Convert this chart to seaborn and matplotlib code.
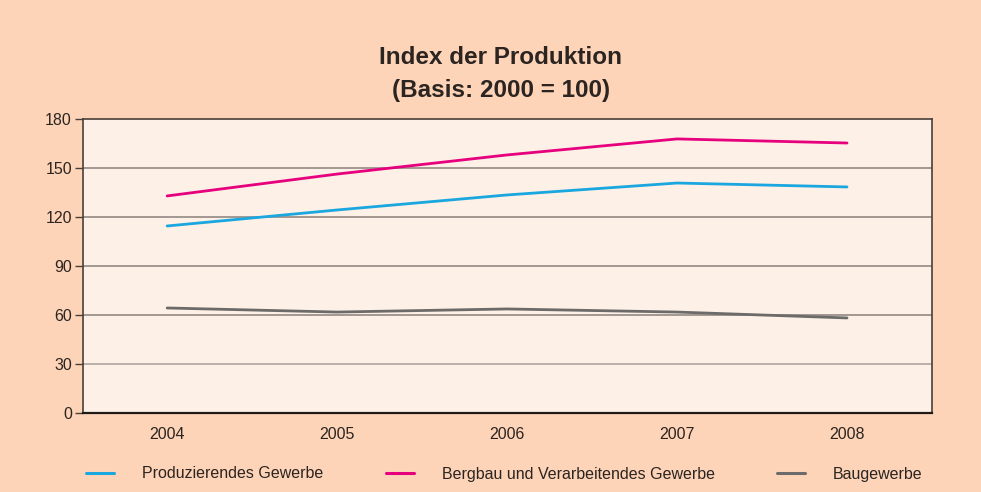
import matplotlib
matplotlib.use('Agg')
import matplotlib.pyplot as plt
import pandas as pd
import seaborn as sns

jahre = [2004, 2005, 2006, 2007, 2008]
produzierendes = [114.5, 124.3, 133.5, 140.8, 138.4]
bergbau = [132.9, 146.3, 158.0, 167.8, 165.3]
baugewerbe = [64.3, 61.8, 63.7, 61.8, 58.2]
serien = ['Produzierendes Gewerbe', 'Bergbau und Verarbeitendes Gewerbe', 'Baugewerbe']
farben = ['#1aa7df', '#e6007e', '#6d6b6a']

df = pd.DataFrame({'Jahr': jahre * 3,
                   'Index': produzierendes + bergbau + baugewerbe,
                   'Reihe': [s for s in serien for _ in jahre]})

sns.set_style('white')
plt.rcParams['font.family'] = ['Liberation Sans', 'DejaVu Sans']
textfarbe = '#2b2420'

fig = plt.figure(figsize=(9.81, 4.92), dpi=100, facecolor='#fed4b8')
ax = fig.add_axes([83 / 981, 1 - 413 / 492, 849 / 981, 294 / 492])
ax.set_facecolor('#fdf0e6')

sns.lineplot(data=df, x='Jahr', y='Index', hue='Reihe', hue_order=serien,
             palette=farben, linewidth=2.0, ax=ax, legend=False)

ax.set_xlim(2003.505, 2008.5)
ax.set_ylim(0, 180)
ax.set_yticks(range(0, 181, 30))
ax.set_xticks(jahre)
ax.set_xticklabels([str(j) for j in jahre])
for y in range(30, 180, 30):
    ax.axhline(y, color='#8a807a' if y > 30 else '#a89e98', linewidth=1.1, zorder=0)
ax.set_xlabel('')
ax.set_ylabel('')
for s in ax.spines.values():
    s.set_color('#4a3f38')
    s.set_linewidth(1.2)
ax.spines['bottom'].set_color('#1e1a17')
ax.spines['bottom'].set_linewidth(1.6)
ax.tick_params(axis='y', length=6, width=1, color='#4a3f38', labelsize=11.5,
               labelcolor=textfarbe, pad=2, left=True)
ax.tick_params(axis='x', length=0, labelsize=11.5, labelcolor=textfarbe, pad=10)

fig.text(0.5105, 1 - 58 / 492, 'Index der Produktion', ha='center', va='center',
         fontsize=17.5, fontweight='bold', color=textfarbe)
fig.text(0.5105, 1 - 91 / 492, '(Basis: 2000 = 100)', ha='center', va='center',
         fontsize=17.5, fontweight='bold', color=textfarbe)

handles = [plt.Line2D([], [], color=c, linewidth=2.2) for c in farben]
fig.legend(handles, serien, loc='center left', bbox_to_anchor=(72 / 981, 1 - 474 / 492),
           ncol=3, frameon=False, fontsize=11.5, labelcolor=textfarbe,
           handlelength=1.75, handletextpad=1.75, columnspacing=3.9)

fig.savefig('out.png', dpi=100, facecolor=fig.get_facecolor())
